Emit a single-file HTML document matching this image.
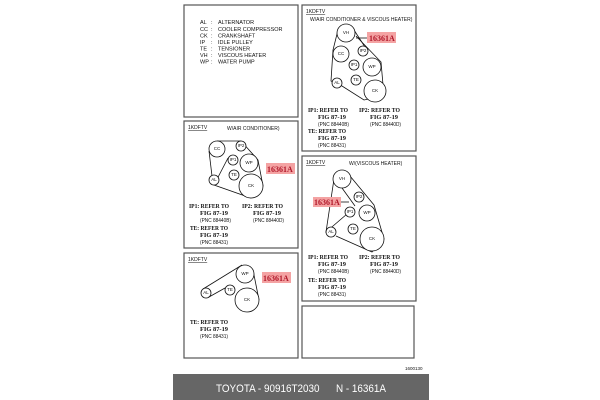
<!DOCTYPE html>
<html><head><style>
html,body{margin:0;padding:0;background:#fff;width:600px;height:400px;overflow:hidden}
svg{display:block}
.lg{font-family:"Liberation Sans",sans-serif;font-size:5.5px;fill:#111}
.h{font-family:"Liberation Sans",sans-serif;font-size:5px;fill:#111}
.r{font-family:"Liberation Serif",serif;font-size:6.5px;font-weight:bold;fill:#111}
.p{font-family:"Liberation Sans",sans-serif;font-size:5px;fill:#111}
.c{font-family:"Liberation Sans",sans-serif;font-size:4.5px;fill:#111;text-anchor:middle;dominant-baseline:middle}
.lab{font-family:"Liberation Serif",serif;font-size:8px;font-weight:bold;fill:#b0182a}
circle{fill:#fff;stroke:#111;stroke-width:0.8}
.b{fill:none;stroke:#111;stroke-width:0.8}
.box{fill:#fff;stroke:#555;stroke-width:1.2}
</style></head><body>
<svg width="600" height="400" viewBox="0 0 600 400">
<rect class="box" x="184" y="5" width="114" height="112"/>
<rect class="box" x="302" y="5" width="114" height="146"/>
<rect class="box" x="184" y="121" width="114" height="127"/>
<rect class="box" x="302" y="156" width="114" height="145"/>
<rect class="box" x="184" y="253" width="114" height="105"/>
<rect class="box" x="302" y="306" width="112" height="52"/>

<g class="lg">
<text x="200" y="24">AL</text><text x="211" y="24">:</text><text x="218" y="24">ALTERNATOR</text>
<text x="200" y="31">CC</text><text x="211" y="31">:</text><text x="218" y="31">COOLER COMPRESSOR</text>
<text x="200" y="37.5">CK</text><text x="211" y="37.5">:</text><text x="218" y="37.5">CRANKSHAFT</text>
<text x="200" y="44">IP</text><text x="211" y="44">:</text><text x="218" y="44">IDLE PULLEY</text>
<text x="200" y="50.5">TE</text><text x="211" y="50.5">:</text><text x="218" y="50.5">TENSIONER</text>
<text x="200" y="57">VH</text><text x="211" y="57">:</text><text x="218" y="57">VISCOUS HEATER</text>
<text x="200" y="63.5">WP</text><text x="211" y="63.5">:</text><text x="218" y="63.5">WATER PUMP</text>
</g>

<!-- Box B -->
<text class="h" x="306" y="13" text-decoration="underline">1KDFTV</text>
<text class="h" x="310" y="21">W/AIR CONDITIONER &amp; VISCOUS HEATER)</text>
<path class="b" d="M338 30 L333 50 L331 81 L342 86 L364 100 L384 96 L381 62 L356 36"/>
<path class="b" d="M354 30 L365 47"/>
<line class="b" x1="356" y1="38" x2="368" y2="38"/>
<circle cx="346" cy="33" r="9"/><text class="c" x="346" y="33">VH</text>
<circle cx="341" cy="54" r="8"/><text class="c" x="341" y="54">CC</text>
<circle cx="363" cy="51" r="5"/><text class="c" x="363" y="51">IP2</text>
<circle cx="354" cy="65" r="5"/><text class="c" x="354" y="65">IP1</text>
<circle cx="372" cy="67" r="9"/><text class="c" x="372" y="67">WP</text>
<circle cx="337" cy="83" r="5"/><text class="c" x="337" y="83">AL</text>
<circle cx="356" cy="80" r="5"/><text class="c" x="356" y="80">TE</text>
<circle cx="375" cy="91" r="11"/><text class="c" x="375" y="91">CK</text>
<rect x="367" y="32" width="29" height="11" fill="#f4a3a3"/>
<text class="lab" x="369" y="41">16361A</text>
<g>
<text class="r" x="308" y="112" textLength="40" lengthAdjust="spacingAndGlyphs">IP1: REFER TO</text>
<text class="r" x="318" y="119" textLength="28" lengthAdjust="spacingAndGlyphs">FIG 87-19</text>
<text class="p" x="318" y="126" textLength="31" lengthAdjust="spacingAndGlyphs">(PNC 88440B)</text>
<text class="r" x="359" y="112" textLength="41" lengthAdjust="spacingAndGlyphs">IP2: REFER TO</text>
<text class="r" x="370" y="119" textLength="28" lengthAdjust="spacingAndGlyphs">FIG 87-19</text>
<text class="p" x="370" y="126" textLength="31" lengthAdjust="spacingAndGlyphs">(PNC 88440D)</text>
<text class="r" x="308" y="133" textLength="38" lengthAdjust="spacingAndGlyphs">TE: REFER TO</text>
<text class="r" x="318" y="140" textLength="28" lengthAdjust="spacingAndGlyphs">FIG 87-19</text>
<text class="p" x="318" y="147" textLength="28" lengthAdjust="spacingAndGlyphs">(PNC 88431)</text>
</g>

<!-- Box C -->
<text class="h" x="188" y="129" text-decoration="underline">1KDFTV</text>
<text class="h" x="227" y="130">W/AIR CONDITIONER)</text>
<path class="b" d="M217 141 L241 141 L258 160 L263 186 L251 198 L214 185 L228 158 M209 151 L212 176"/>
<circle cx="217" cy="149" r="8"/><text class="c" x="217" y="149">CC</text>
<circle cx="241" cy="146" r="5"/><text class="c" x="241" y="146">IP2</text>
<circle cx="233" cy="160" r="5"/><text class="c" x="233" y="160">IP1</text>
<circle cx="249" cy="163" r="9"/><text class="c" x="249" y="163">WP</text>
<circle cx="214" cy="180" r="5"/><text class="c" x="214" y="180">AL</text>
<circle cx="234" cy="175" r="5"/><text class="c" x="234" y="175">TE</text>
<circle cx="251" cy="186" r="12"/><text class="c" x="251" y="186">CK</text>
<rect x="266" y="163" width="29" height="11" fill="#f4a3a3"/>
<text class="lab" x="267" y="172">16361A</text>
<text class="r" x="189" y="208" textLength="40" lengthAdjust="spacingAndGlyphs">IP1: REFER TO</text>
<text class="r" x="200" y="215" textLength="28" lengthAdjust="spacingAndGlyphs">FIG 87-19</text>
<text class="p" x="200" y="222" textLength="31" lengthAdjust="spacingAndGlyphs">(PNC 88440B)</text>
<text class="r" x="242" y="208" textLength="41" lengthAdjust="spacingAndGlyphs">IP2: REFER TO</text>
<text class="r" x="253" y="215" textLength="28" lengthAdjust="spacingAndGlyphs">FIG 87-19</text>
<text class="p" x="253" y="222" textLength="31" lengthAdjust="spacingAndGlyphs">(PNC 88440D)</text>
<text class="r" x="190" y="230" textLength="38" lengthAdjust="spacingAndGlyphs">TE: REFER TO</text>
<text class="r" x="200" y="237" textLength="28" lengthAdjust="spacingAndGlyphs">FIG 87-19</text>
<text class="p" x="200" y="244" textLength="28" lengthAdjust="spacingAndGlyphs">(PNC 88431)</text>

<!-- Box D -->
<text class="h" x="306" y="164" text-decoration="underline">1KDFTV</text>
<text class="h" x="349" y="165">W/(VISCOUS HEATER)</text>
<path class="b" d="M334 179 L326 232 L347 214 M336 236 L372 252 L384 239 L374 205 L350 176 M342 188 L355 206"/>
<line class="b" x1="341" y1="202" x2="349" y2="202"/>
<circle cx="342" cy="179" r="9"/><text class="c" x="342" y="179">VH</text>
<circle cx="359" cy="197" r="5"/><text class="c" x="359" y="197">IP2</text>
<circle cx="350" cy="212" r="5"/><text class="c" x="350" y="212">IP1</text>
<circle cx="367" cy="213" r="8"/><text class="c" x="367" y="213">WP</text>
<circle cx="331" cy="232" r="5"/><text class="c" x="331" y="232">AL</text>
<circle cx="353" cy="229" r="5"/><text class="c" x="353" y="229">TE</text>
<circle cx="372" cy="239" r="12"/><text class="c" x="372" y="239">CK</text>
<rect x="313" y="197" width="28" height="10" fill="#f4a3a3"/>
<text class="lab" x="314" y="205">16361A</text>
<text class="r" x="308" y="259" textLength="40" lengthAdjust="spacingAndGlyphs">IP1: REFER TO</text>
<text class="r" x="318" y="266" textLength="28" lengthAdjust="spacingAndGlyphs">FIG 87-19</text>
<text class="p" x="318" y="273" textLength="31" lengthAdjust="spacingAndGlyphs">(PNC 88440B)</text>
<text class="r" x="359" y="259" textLength="41" lengthAdjust="spacingAndGlyphs">IP2: REFER TO</text>
<text class="r" x="370" y="266" textLength="28" lengthAdjust="spacingAndGlyphs">FIG 87-19</text>
<text class="p" x="370" y="273" textLength="31" lengthAdjust="spacingAndGlyphs">(PNC 88440D)</text>
<text class="r" x="308" y="282" textLength="38" lengthAdjust="spacingAndGlyphs">TE: REFER TO</text>
<text class="r" x="318" y="289" textLength="28" lengthAdjust="spacingAndGlyphs">FIG 87-19</text>
<text class="p" x="318" y="296" textLength="28" lengthAdjust="spacingAndGlyphs">(PNC 88431)</text>

<!-- Box E -->
<text class="h" x="188" y="261" text-decoration="underline">1KDFTV</text>
<path class="b" d="M203 289 L242 265 M209 297 L225 288 M253 270 L259 300"/>
<circle cx="245" cy="274" r="9"/><text class="c" x="245" y="274">WP</text>
<circle cx="206" cy="293" r="5"/><text class="c" x="206" y="293">AL</text>
<circle cx="230" cy="290" r="5"/><text class="c" x="230" y="290">TE</text>
<circle cx="247" cy="300" r="12"/><text class="c" x="247" y="300">CK</text>
<rect x="262" y="272" width="29" height="11" fill="#f4a3a3"/>
<text class="lab" x="263" y="281">16361A</text>
<text class="r" x="190" y="324" textLength="38" lengthAdjust="spacingAndGlyphs">TE: REFER TO</text>
<text class="r" x="200" y="331" textLength="28" lengthAdjust="spacingAndGlyphs">FIG 87-19</text>
<text class="p" x="200" y="338" textLength="28" lengthAdjust="spacingAndGlyphs">(PNC 88431)</text>

<text class="h" x="405" y="370" style="font-size:4.5px">1600130</text>

<rect x="173" y="374" width="256" height="26" fill="#666"/>
<text x="216" y="392" fill="#fff" textLength="170" lengthAdjust="spacingAndGlyphs" style="font-family:'Liberation Sans',sans-serif;font-size:11px">TOYOTA - 90916T2030&#160;&#160;&#160;&#160;&#160;&#160;N - 16361A</text>
</svg>
</body></html>
